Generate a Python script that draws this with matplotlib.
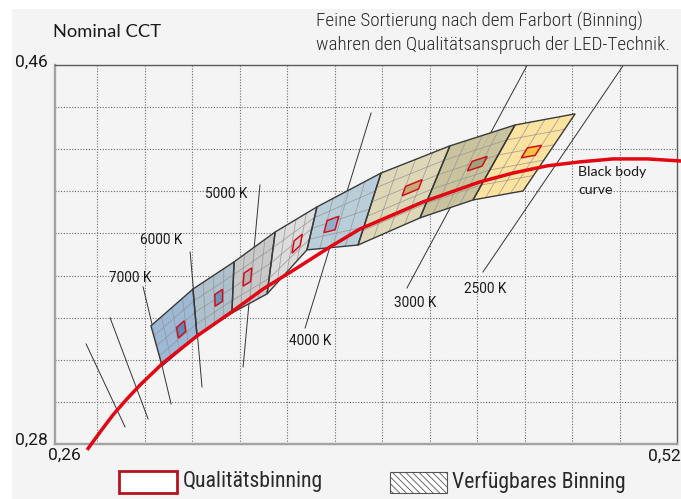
import numpy as np
import matplotlib
matplotlib.use("Agg")
import matplotlib.pyplot as plt
from matplotlib.patches import Polygon, Rectangle
from matplotlib import font_manager

# ── Data (CIE x, y) ──────────────────────────────────────────────────────────
# black body curve (Planck locus)
bb_x = [0.2758, 0.2813, 0.2867, 0.2926, 0.2981, 0.3078, 0.3221, 0.3360, 0.3499,
        0.3642, 0.3781, 0.3907, 0.4173, 0.4413, 0.4552, 0.4695, 0.4834, 0.4973,
        0.5116, 0.5259]
bb_y = [0.2772, 0.2857, 0.2938, 0.3014, 0.3080, 0.3185, 0.3313, 0.3422, 0.3536,
        0.3636, 0.3736, 0.3821, 0.3950, 0.4045, 0.4087, 0.4121, 0.4140, 0.4154,
        0.4154, 0.4144]

# dividing lines between the bins: upper and lower end point
edge_top_x = [0.3027, 0.3204, 0.3377, 0.3550, 0.3726, 0.3996, 0.4286, 0.4560, 0.4813]
edge_top_y = [0.3361, 0.3536, 0.3665, 0.3807, 0.3926, 0.4087, 0.4216, 0.4315, 0.4368]
edge_bot_x = [0.3074, 0.3221, 0.3368, 0.3516, 0.3684, 0.3899, 0.4160, 0.4383, 0.4594]
edge_bot_y = [0.3171, 0.3313, 0.3422, 0.3513, 0.3722, 0.3745, 0.3874, 0.3959, 0.4002]

# sub-bins per bin and position of the quality bin inside (fractions)
bin_cols = [4, 4, 4, 4, 4, 4, 4, 4]
bin_rows = [4, 4, 4, 4, 4, 5, 5, 5]
q_u = [0.625, 0.625, 0.375, 0.65, 0.35, 0.625, 0.67, 0.625]
q_v = [0.60, 0.52, 0.48, 0.56, 0.56, 0.44, 0.43, 0.44]

bin_colors = ["#97b5d3", "#a9bdca", "#c6c6c6", "#dcdcdc",
              "#b5cbd7", "#ddd6b4", "#c7c198", "#fde29a"]
q_colors = ["#5b8cb8", "#6d95b8", "#b4b4b4", "#cfcfcf",
            "#93acc8", "#c9a877", "#9ea27c", "#f9c23f"]

# CCT labels and their leader lines
cct_labels = ["7000 K", "6000 K", "5000 K", "4000 K", "3000 K", "2500 K"]
lab_x = [0.2939, 0.3070, 0.3343, 0.3697, 0.4139, 0.4434]
lab_y = [0.3589, 0.3769, 0.3988, 0.3289, 0.3470, 0.3536]

lead_x0 = [0.2754, 0.2855, 0.2994, 0.3192, 0.3486, 0.3676, 0.4105, 0.4425]
lead_y0 = [0.3275, 0.3399, 0.3546, 0.3712, 0.4030, 0.3351, 0.3541, 0.3617]
lead_x1 = [0.2918, 0.3015, 0.3112, 0.3242, 0.3415, 0.3954, 0.4623, 0.5023]
lead_y1 = [0.2881, 0.2919, 0.2990, 0.3071, 0.3166, 0.4372, 0.4624, 0.4610]

# ── Fonts ────────────────────────────────────────────────────────────────────
names = {f.name for f in font_manager.fontManager.ttflist}
cond = next((n for n in ["Roboto Condensed", "Liberation Sans Narrow"] if n in names), "Roboto")
plt.rcParams["font.family"] = ["Roboto", "DejaVu Sans"]
plt.rcParams["hatch.linewidth"] = 0.6

W, H = 681, 499
fig = plt.figure(figsize=(W / 100, H / 100), dpi=100, facecolor="white")
fig.patches.append(Rectangle((12 / W, 0), 1, 1 - 9 / H, transform=fig.transFigure,
                             facecolor="#f4f4f4", edgecolor="none", zorder=-5))

def fpos(px, py):
    return px / W, 1 - py / H

l, b = fpos(55, 444)
r, t = fpos(677, 65)
ax = fig.add_axes([l, b, r - l, t - b])
ax.set_zorder(2)
ax.set_facecolor("#f4f4f4")
ax.set_xlim(0.2623, 0.5242)
ax.set_ylim(0.28, 0.46)
ax.set_xticks(np.arange(0.28, 0.5001, 0.02))
ax.set_yticks(np.arange(0.30, 0.4401, 0.02))
ax.tick_params(length=0, labelbottom=False, labelleft=False)
ax.grid(True, color="#6a6a6a", lw=0.8, ls=(0, (1, 1.5)))
for s in ax.spines.values():
    s.set_color("#5a5a5a")
    s.set_linewidth(1.0)
for side in ["left", "bottom"]:
    ax.spines[side].set_linewidth(1.7)
    ax.spines[side].set_color("#a3a3a3")

# leader lines
for x0, y0, x1, y1 in zip(lead_x0, lead_y0, lead_x1, lead_y1):
    ax.plot([x0, x1], [y0, y1], color="#333333", lw=0.7, zorder=2)

# bins
def bil(c, u, v):
    tl, tr, br, bl = c
    top = tl + u * (tr - tl)
    bot = bl + u * (br - bl)
    return top + v * (bot - top)

for k in range(len(edge_top_x) - 1):
    tl = np.array([edge_top_x[k], edge_top_y[k]])
    tr = np.array([edge_top_x[k + 1], edge_top_y[k + 1]])
    br = np.array([edge_bot_x[k + 1], edge_bot_y[k + 1]])
    bl = np.array([edge_bot_x[k], edge_bot_y[k]])
    c = (tl, tr, br, bl)
    ax.add_patch(Polygon([tl, tr, br, bl], closed=True, facecolor=bin_colors[k],
                         edgecolor="none", alpha=0.93, zorder=3))
    nc, nr = bin_cols[k], bin_rows[k]
    for i in range(1, nc):
        p0, p1 = bil(c, i / nc, 0), bil(c, i / nc, 1)
        ax.plot([p0[0], p1[0]], [p0[1], p1[1]], color="#939393", lw=0.6, alpha=0.8, zorder=4)
    for j in range(1, nr):
        p0, p1 = bil(c, 0, j / nr), bil(c, 1, j / nr)
        ax.plot([p0[0], p1[0]], [p0[1], p1[1]], color="#939393", lw=0.6, alpha=0.8, zorder=4)
    ax.add_patch(Polygon([tl, tr, br, bl], closed=True, facecolor="none",
                         edgecolor="#3a3a3a", lw=1.0, zorder=5))
    du, dv = (0.10, 0.12) if nr == 4 else (0.125, 0.065)
    q = [bil(c, q_u[k] - du, q_v[k] - dv), bil(c, q_u[k] + du, q_v[k] - dv),
         bil(c, q_u[k] + du, q_v[k] + dv), bil(c, q_u[k] - du, q_v[k] + dv)]
    ax.add_patch(Polygon(q, closed=True, facecolor=q_colors[k], edgecolor="#d0101e",
                         lw=1.1, zorder=7))

# black body curve
ax.plot(bb_x, bb_y, color="#e30613", lw=2.5, zorder=6, clip_on=False,
        solid_capstyle="butt", solid_joinstyle="round")

for s, x, y in zip(cct_labels, lab_x, lab_y):
    ax.text(x, y, s, fontsize=9.8, ha="center", va="center",
            color="#1a1a1a", zorder=8)
ax.text(0.4825, 0.4092, "Black body", fontsize=10.2, family=["Lato", "DejaVu Sans"],
        ha="left", va="center", color="#1a1a1a", zorder=8)
ax.text(0.4825, 0.4006, "curve", fontsize=10.2, family=["Lato", "DejaVu Sans"],
        ha="left", va="center", color="#1a1a1a", zorder=8)

# corner values
fig.text(*fpos(48, 62), "0,46", fontsize=12.5, ha="right", va="center", color="#1a1a1a")
fig.text(*fpos(48, 440), "0,28", fontsize=12.5, ha="right", va="center", color="#1a1a1a")
fig.text(*fpos(64, 455), "0,26", fontsize=12.5, ha="center", va="center", color="#1a1a1a")
fig.text(*fpos(681, 456), "0,52", fontsize=12.5, ha="right", va="center", color="#1a1a1a")

# headings
fig.text(*fpos(53, 32), "Nominal CCT", fontsize=13.2, family=["Lato", "DejaVu Sans"],
         ha="left", va="center", color="#1a1a1a")
fig.text(*fpos(316, 33), "Feine Sortierung nach dem Farbort (Binning)\n"
         "wahren den Qualitätsanspruch der LED-Technik.",
         fontsize=13.8, family=[cond, "DejaVu Sans"], ha="left", va="center",
         color="#2a2a2a", linespacing=1.38, fontweight="light")

# legend
x0, y0 = fpos(119, 493)
x1, y1 = fpos(177, 471)
fig.patches.append(Rectangle((x0, y0), x1 - x0, y1 - y0, transform=fig.transFigure,
                             facecolor="white", edgecolor="#b5141e", lw=2))
fig.text(*fpos(183, 482), "Qualitätsbinning", fontsize=15.7, family=[cond, "DejaVu Sans"],
         ha="left", va="center", color="#2a2a2a")
x0, y0 = fpos(390, 493)
x1, y1 = fpos(447, 472)
fig.patches.append(Rectangle((x0, y0), x1 - x0, y1 - y0, transform=fig.transFigure,
                             facecolor="white", edgecolor="#555555", lw=0.8,
                             hatch="\\\\\\\\\\"))
fig.text(*fpos(452, 482), "Verfügbares Binning", fontsize=15.7, family=[cond, "DejaVu Sans"],
         ha="left", va="center", color="#2a2a2a")

fig.savefig("out.png", dpi=100, facecolor=fig.get_facecolor())
